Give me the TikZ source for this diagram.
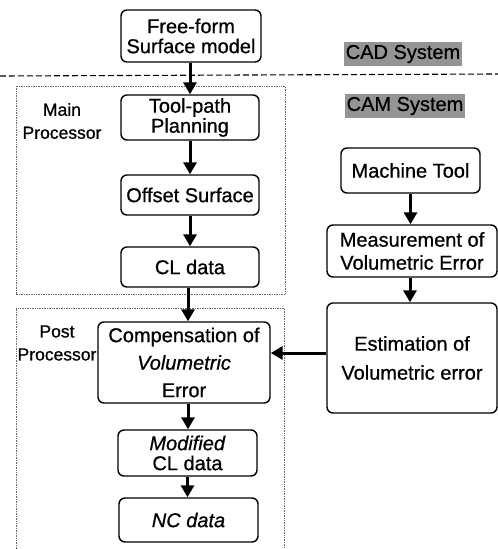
\documentclass[tikz,border=0pt]{standalone}
\usepackage{fontspec}
\setmainfont{Liberation Sans}[UprightFeatures={FakeBold=0.7}, ItalicFeatures={FakeBold=0.7}]
\usetikzlibrary{arrows.meta}
\begin{document}
\begin{tikzpicture}[x=1pt,y=-1pt,
  box/.style={draw, line width=1.4pt, rounded corners=6pt, align=center, inner sep=0pt,
    font=\fontsize{20}{20}\selectfont},
  lbl/.style={align=center, inner sep=0pt, font=\fontsize{17.5}{23}\selectfont},
  sys/.style={fill=black!42, inner xsep=2pt, inner ysep=3pt, font=\fontsize{20}{20}\selectfont},
  arr/.style={line width=3pt, -{Triangle[length=12pt,width=13pt]}},
  grp/.style={draw=black!60, densely dotted, line width=0.7pt},
  sep/.style={line width=1.1pt, dash pattern=on 6pt off 3pt}]
\useasboundingbox (0,0) rectangle (498,549);

% separator and system labels
\coordinate (sepL) at (0,76);
\coordinate (sepR) at (498,74);
\draw[sep] (sepL) -- (sepR);
\node[sys] (cad) at (403,54) {CAD System};
\node[sys] (cam) at (405,106) {CAM System};

% group frames
\draw[grp] (16,86) rectangle (285,294);
\draw[grp] (16,549) -- (16,308) -- (284,308) -- (284,549);
\node[lbl] (mainlbl) at (62,121) {Main\\Processor};
\node[lbl] (postlbl) at (57,343) {Post\\Processor};

% left column
\node[box, minimum width=140pt, minimum height=52pt] (ff) at (191,36) {Free-form\\Surface model};
\node[box, minimum width=138pt, minimum height=45pt] (tp) at (190,117.5) {Tool-path\\Planning};
\node[box, minimum width=138pt, minimum height=40pt] (os) at (190,195) {Offset Surface};
\node[box, minimum width=138pt, minimum height=40pt] (cl) at (190,267) {CL data};
\node[box, minimum width=172pt, minimum height=81pt, font=\fontsize{20}{27.5}\selectfont] (comp) at (184,362.5) {Compensation of\\\textit{Volumetric}\\Error};
\node[box, minimum width=139pt, minimum height=46pt] (mod) at (187.5,453) {\textit{Modified}\\CL data};
\node[box, minimum width=139pt, minimum height=44pt] (nc) at (188.5,520) {\textit{NC data}};

% right column
\node[box, minimum width=139pt, minimum height=45pt] (mt) at (410.5,170.5) {Machine Tool};
\node[box, minimum width=170pt, minimum height=52pt, font=\fontsize{20}{23}\selectfont] (meas) at (412,251) {Measurement of\\Volumetric Error};
\node[box, minimum width=170pt, minimum height=110pt, font=\fontsize{20}{29}\selectfont] (est) at (412,358) {Estimation of\\Volumetric error};

% connectors
\draw[arr] (ff.south -| tp.north) -- (tp.north);
\draw[arr] (tp.south) -- (os.north);
\draw[arr] (os.south) -- (cl.north);
\draw[arr] ([xshift=-2pt]cl.south) -- ([xshift=-2pt]cl.south |- comp.north);
\draw[arr] ([xshift=4pt]comp.south) -- ([xshift=4pt]comp.south |- mod.north);
\draw[arr] (mod.south) -- (mod.south |- nc.north);
\draw[arr] (mt.south) -- (mt.south |- meas.north);
\draw[arr] ([xshift=-2pt]meas.south) -- ([xshift=-2pt]meas.south |- est.north);
\draw[arr] ([yshift=5pt]est.west) -- ([yshift=5pt]est.west -| comp.east);
\end{tikzpicture}
\end{document}
